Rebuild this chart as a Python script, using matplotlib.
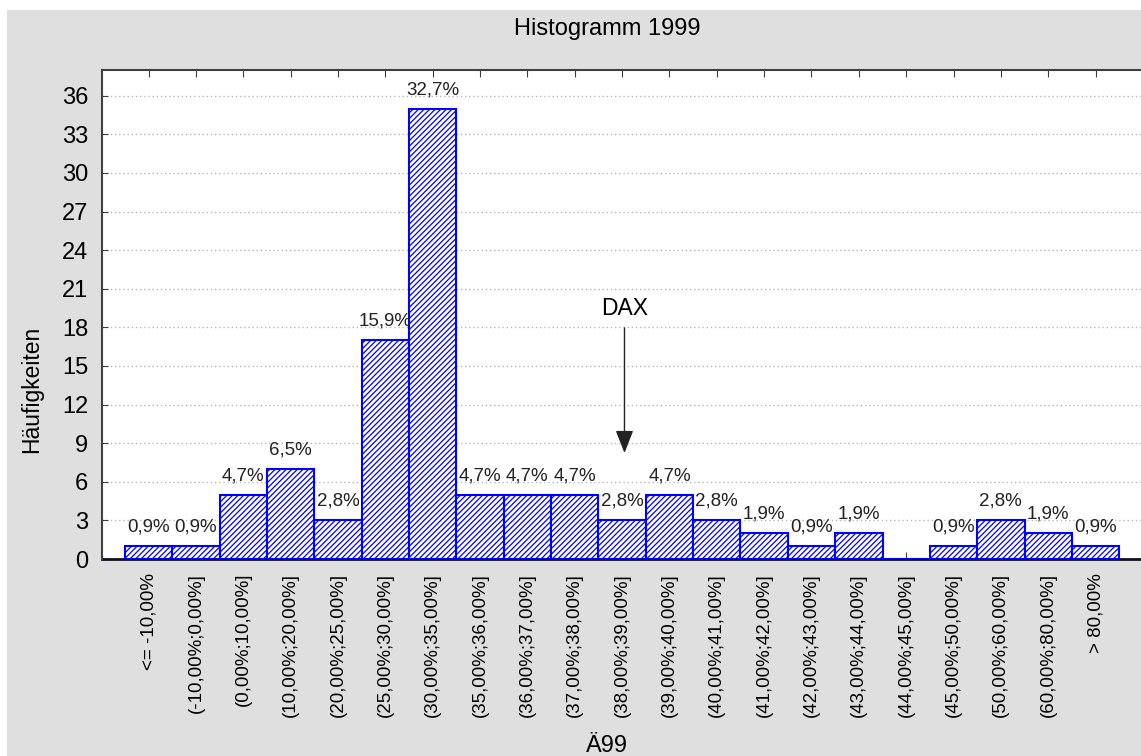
import numpy as np
import matplotlib
matplotlib.use("Agg")
import matplotlib.pyplot as plt
from matplotlib.patches import Rectangle

plt.rcParams['font.family'] = ['Liberation Sans', 'DejaVu Sans']
plt.rcParams['hatch.linewidth'] = 0.9

# Histogram classes and counts
categories = ['<= -10,00%', '(-10,00%;0,00%]', '(0,00%;10,00%]', '(10,00%;20,00%]',
              '(20,00%;25,00%]', '(25,00%;30,00%]', '(30,00%;35,00%]', '(35,00%;36,00%]',
              '(36,00%;37,00%]', '(37,00%;38,00%]', '(38,00%;39,00%]', '(39,00%;40,00%]',
              '(40,00%;41,00%]', '(41,00%;42,00%]', '(42,00%;43,00%]', '(43,00%;44,00%]',
              '(44,00%;45,00%]', '(45,00%;50,00%]', '(50,00%;60,00%]', '(60,00%;80,00%]',
              '> 80,00%']
counts = [1, 1, 5, 7, 3, 17, 35, 5, 5, 5, 3, 5, 3, 2, 1, 2, 0, 1, 3, 2, 1]
yticks = [0, 3, 6, 9, 12, 15, 18, 21, 24, 27, 30, 33, 36]
dax_pos = 10.05

W, H = 1141, 756
fig = plt.figure(figsize=(W / 100, H / 100), dpi=100)
fig.patch.set_facecolor('white')
fig.add_artist(Rectangle((7 / W, 0), 1 - 7 / W, 1 - 10 / H, transform=fig.transFigure,
                         facecolor='#dfdfdf', edgecolor='none', zorder=-10))

ax = fig.add_axes([102 / W, 1 - 559 / H, (W - 102) / W, (559 - 70) / H])
ax.set_facecolor('white')

x = np.arange(len(counts))
ax.bar(x, counts, width=1.0, facecolor='white', edgecolor='#0000ff',
       hatch='//////', linewidth=1.5, zorder=3)

total = sum(counts)
for xi, c in zip(x, counts):
    if c == 0:
        continue
    pct = f"{100 * c / total:.1f}%".replace('.', ',')
    ax.annotate(pct, (xi, c), xytext=(0, 10.5), textcoords='offset points',
                ha='center', va='baseline', fontsize=13.5, color='#222222', zorder=4)

ax.set_xlim(-0.986, 20.96)
ax.set_ylim(0, 38.0)
ax.set_yticks(yticks)
ax.set_yticklabels([str(v) for v in yticks], fontsize=17)
ax.set_xticks(x)
ax.set_xticklabels(categories, rotation=90, fontsize=13.5, va='top')
ax.tick_params(axis='x', direction='in', length=5, pad=10, top=True, color='#404040')
ax.tick_params(axis='y', direction='in', length=4, pad=10, color='#404040')
ax.grid(axis='y', color='#b8b8b8', linestyle=(0, (1, 2)), linewidth=1, zorder=0)

for side in ['left', 'top']:
    ax.spines[side].set_color('#404040')
    ax.spines[side].set_linewidth(1.5)
ax.spines['bottom'].set_color('#101020')
ax.spines['bottom'].set_linewidth(2)
ax.spines['bottom'].set_zorder(2)
ax.spines['right'].set_visible(False)

# DAX marker
ax.text(dax_pos, 19.44, 'DAX', ha='center', va='center', fontsize=16.5, color='black')
ax.annotate('', xy=(dax_pos, 8.24), xytext=(dax_pos, 17.96),
            arrowprops=dict(arrowstyle='-|>,head_length=1.4,head_width=0.55',
                            color='#222222', lw=1, shrinkA=0, shrinkB=0))

fig.text(607 / W, 1 - 29 / H, 'Histogramm 1999', ha='center', va='center', fontsize=17)
fig.text(607 / W, 1 - 746 / H, 'Ä99', ha='center', va='center', fontsize=17)
fig.text(32 / W, 1 - 389 / H, 'Häufigkeiten', ha='center', va='center',
         rotation=90, fontsize=16.5)

fig.savefig('out.png', dpi=100)
